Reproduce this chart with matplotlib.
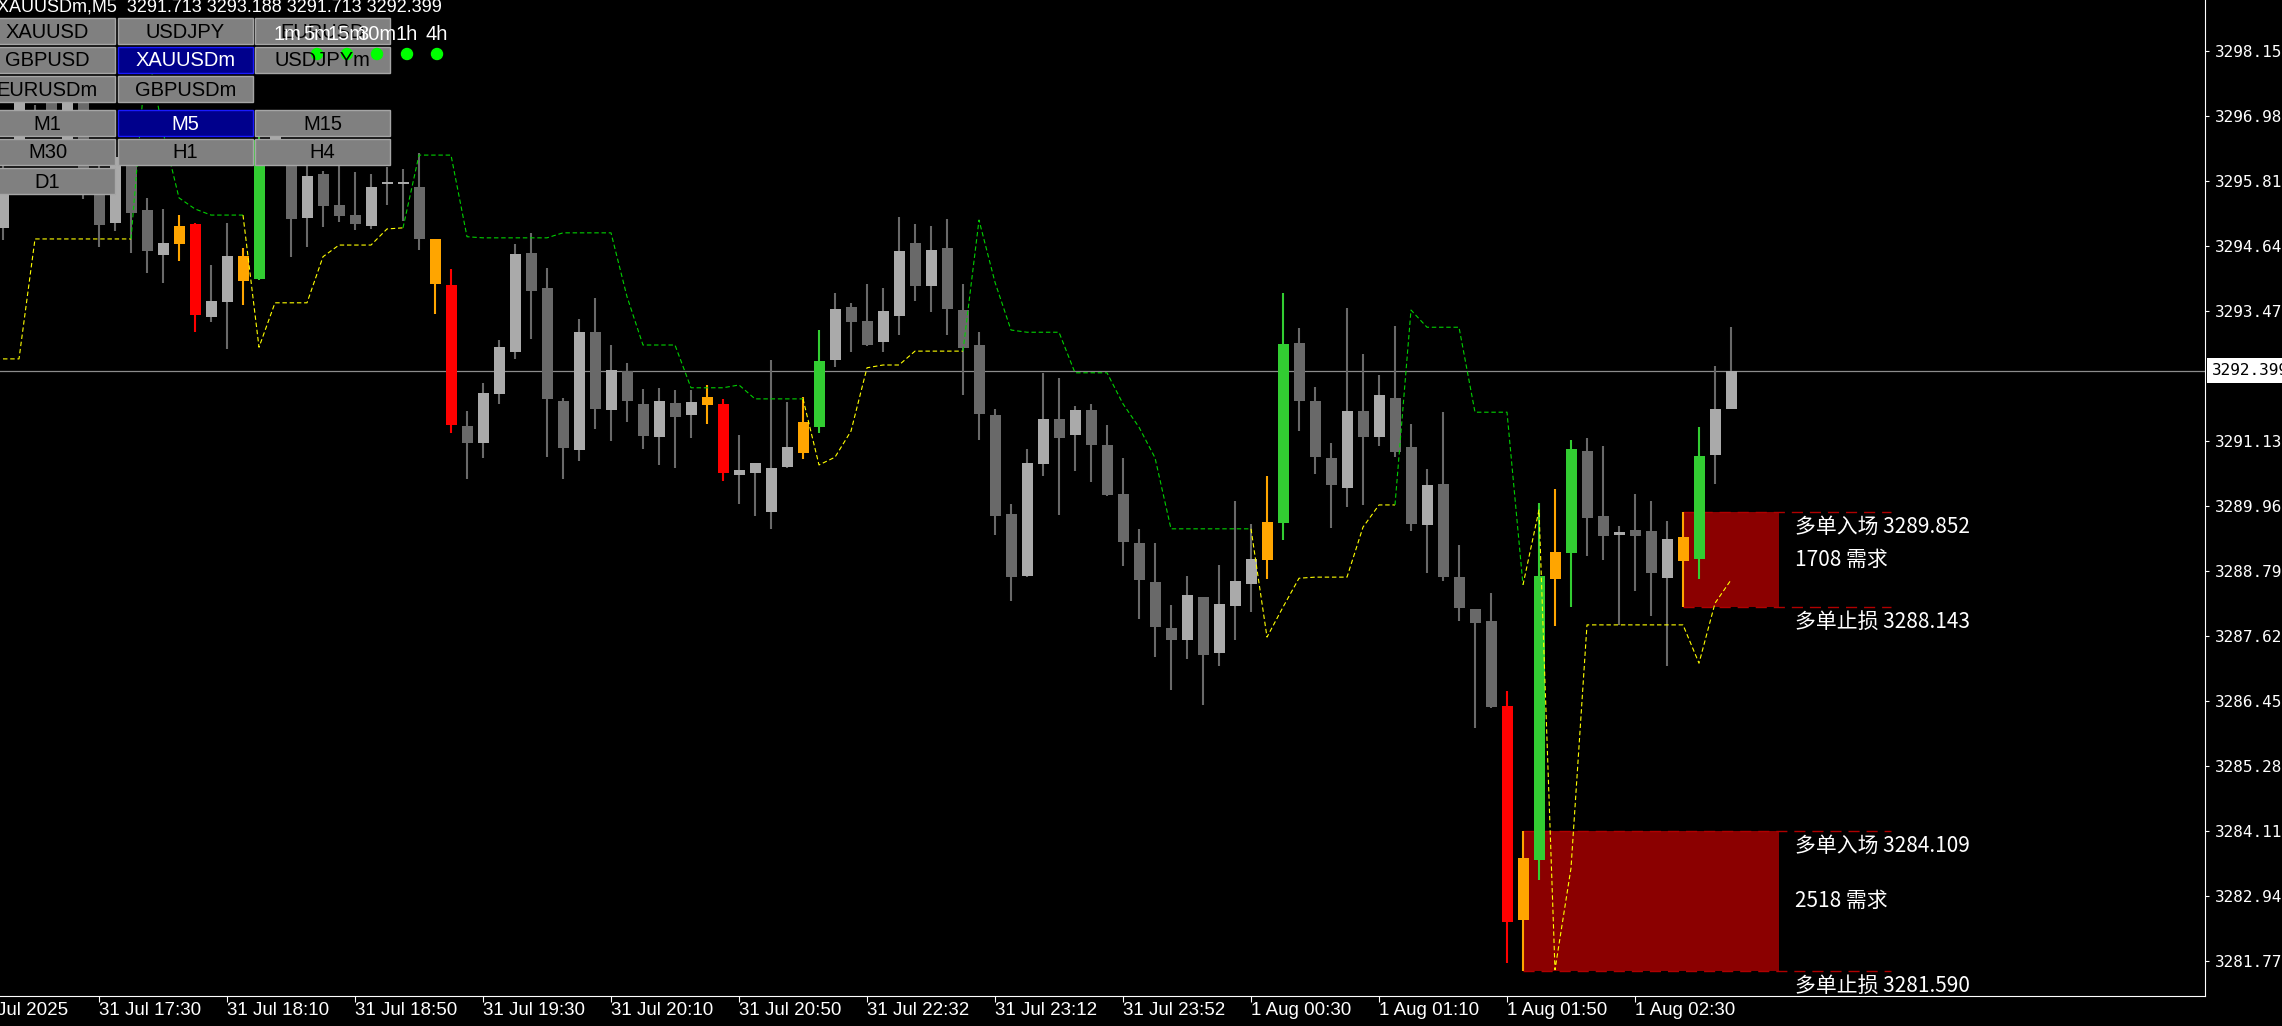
import matplotlib
matplotlib.use("Agg")
import matplotlib.pyplot as plt
from matplotlib.patches import Rectangle, Circle

W, H = 2282, 1026

# XAUUSDm M5 candles, bar 0 = 31 Jul 17:00, last bar = 1 Aug 03:00
opens = [3294.97, 3296.37, 3297.06, 3297.45, 3296.19, 3297.36, 3296.01, 3295.06, 3296.46, 3295.29,
         3294.48, 3294.68, 3295.04, 3293.36, 3293.64, 3294.01, 3294.05, 3296.19, 3296.41, 3295.15,
         3295.94, 3295.38, 3295.20, 3295.00, 3295.76, 3295.76, 3295.71, 3294.77, 3293.94, 3291.40,
         3291.10, 3291.98, 3292.73, 3294.52, 3293.89, 3291.85, 3290.97, 3293.09, 3291.69, 3292.39,
         3291.80, 3291.20, 3291.82, 3291.60, 3291.78, 3291.80, 3290.52, 3290.56, 3289.85, 3290.66,
         3290.92, 3291.38, 3292.59, 3293.54, 3293.29, 3292.91, 3293.38, 3294.70, 3293.92, 3294.61,
         3293.49, 3292.86, 3291.60, 3289.82, 3288.70, 3290.72, 3291.53, 3291.24, 3291.69, 3291.06,
         3290.18, 3289.30, 3288.59, 3287.76, 3287.55, 3288.32, 3287.31, 3288.16, 3288.56, 3288.99,
         3289.66, 3292.90, 3291.85, 3290.83, 3290.29, 3291.67, 3291.20, 3291.91, 3291.02, 3289.62,
         3290.36, 3288.68, 3288.11, 3287.89, 3286.36, 3282.51, 3283.59, 3288.65, 3289.12, 3290.95,
         3289.78, 3289.44, 3289.53, 3289.51, 3288.66, 3288.97, 3289.01, 3290.88, 3291.713]
highs = [3296.19, 3297.45, 3297.18, 3297.54, 3297.45, 3297.45, 3296.10, 3296.32, 3296.55, 3295.51,
         3295.31, 3295.20, 3295.06, 3294.30, 3295.06, 3294.61, 3296.64, 3297.00, 3296.55, 3296.08,
         3295.99, 3296.10, 3295.98, 3295.94, 3296.07, 3296.03, 3296.32, 3294.77, 3294.23, 3291.67,
         3292.18, 3292.95, 3294.68, 3294.88, 3294.25, 3291.91, 3293.33, 3293.71, 3292.86, 3292.54,
         3292.07, 3292.09, 3292.05, 3292.05, 3292.14, 3291.89, 3291.24, 3290.74, 3292.59, 3291.83,
         3291.92, 3293.13, 3293.80, 3293.62, 3293.96, 3293.89, 3295.17, 3295.04, 3295.00, 3295.13,
         3293.96, 3293.09, 3291.71, 3290.00, 3290.99, 3292.36, 3292.27, 3291.76, 3291.80, 3291.42,
         3290.83, 3289.55, 3289.30, 3288.18, 3288.70, 3288.32, 3288.90, 3290.05, 3289.64, 3290.50,
         3293.80, 3293.17, 3292.10, 3291.10, 3293.53, 3292.70, 3292.32, 3293.20, 3291.44, 3290.63,
         3291.65, 3289.26, 3288.11, 3288.39, 3286.63, 3284.109, 3290.02, 3290.27, 3291.15, 3291.19,
         3291.04, 3289.60, 3290.18, 3290.05, 3289.69, 3289.852, 3291.38, 3292.48, 3293.188]
lows = [3294.75, 3296.19, 3296.61, 3296.61, 3296.10, 3295.49, 3294.63, 3294.91, 3294.52, 3294.16,
        3293.98, 3294.37, 3293.09, 3293.27, 3292.79, 3293.58, 3294.03, 3296.10, 3294.45, 3294.63,
        3294.99, 3295.08, 3294.93, 3294.95, 3295.38, 3295.09, 3294.57, 3293.42, 3291.28, 3290.45,
        3290.83, 3291.80, 3292.61, 3292.97, 3290.84, 3290.45, 3290.77, 3291.35, 3291.13, 3291.47,
        3290.99, 3290.70, 3290.65, 3291.19, 3291.44, 3290.41, 3290.00, 3289.78, 3289.55, 3290.65,
        3290.81, 3291.28, 3292.46, 3292.73, 3292.84, 3292.73, 3293.04, 3293.65, 3293.45, 3293.04,
        3291.96, 3291.15, 3289.44, 3288.25, 3288.68, 3290.50, 3289.80, 3290.59, 3290.39, 3290.14,
        3288.88, 3287.93, 3287.24, 3286.65, 3287.21, 3286.38, 3287.08, 3287.55, 3288.05, 3288.65,
        3289.35, 3291.31, 3290.54, 3289.57, 3289.94, 3289.98, 3291.04, 3290.84, 3289.51, 3288.75,
        3288.61, 3287.89, 3285.96, 3286.32, 3281.73, 3281.590, 3283.23, 3287.80, 3288.14, 3289.06,
        3288.99, 3287.82, 3288.43, 3287.98, 3287.08, 3288.143, 3288.65, 3290.36, 3291.713]
closes = [3296.01, 3297.27, 3296.64, 3296.68, 3297.36, 3295.83, 3295.02, 3296.25, 3295.24, 3294.55,
          3294.70, 3295.00, 3293.40, 3293.65, 3294.46, 3294.46, 3296.55, 3296.82, 3295.13, 3295.90,
          3295.36, 3295.18, 3295.04, 3295.71, 3295.76, 3295.76, 3294.77, 3293.96, 3291.42, 3291.10,
          3292.00, 3292.82, 3294.50, 3293.83, 3291.89, 3291.01, 3293.09, 3291.71, 3292.41, 3291.85,
          3291.22, 3291.85, 3291.56, 3291.83, 3291.92, 3290.56, 3290.61, 3290.74, 3290.65, 3291.02,
          3291.47, 3292.57, 3293.51, 3293.27, 3292.86, 3293.47, 3294.55, 3293.92, 3294.57, 3293.51,
          3292.81, 3291.62, 3289.78, 3288.68, 3290.74, 3291.53, 3291.19, 3291.69, 3291.06, 3290.16,
          3289.31, 3288.63, 3287.78, 3287.55, 3288.36, 3287.28, 3288.20, 3288.61, 3289.01, 3289.67,
          3292.88, 3291.85, 3290.84, 3290.34, 3291.67, 3291.20, 3291.96, 3290.93, 3289.64, 3290.34,
          3288.68, 3288.12, 3287.85, 3286.34, 3282.47, 3283.62, 3288.70, 3289.13, 3290.99, 3289.75,
          3289.42, 3289.49, 3289.42, 3288.75, 3289.37, 3289.40, 3290.86, 3291.71, 3292.399]

# bars the indicator paints orange / red / green
special = {11: "o", 12: "r", 15: "o", 16: "g", 27: "o", 28: "r", 44: "o", 45: "r",
           50: "o", 51: "g", 79: "o", 80: "g", 94: "r", 95: "o", 96: "g", 97: "o",
           98: "g", 105: "o", 106: "g"}

# trailing band (Y = yellow support, G = green resistance)
band = [3292.61, 3292.61, 3294.77, 3294.77, 3294.77, 3294.77, 3294.77, 3294.77, 3294.77, 3298.23,
        3296.70, 3295.51, 3295.31, 3295.20, 3295.20, 3295.20, 3292.82, 3293.62, 3293.62, 3293.62,
        3294.45, 3294.66, 3294.66, 3294.66, 3294.95, 3294.97, 3296.28, 3296.28, 3296.28, 3294.81,
        3294.79, 3294.79, 3294.79, 3294.79, 3294.79, 3294.88, 3294.88, 3294.88, 3294.88, 3293.73,
        3292.86, 3292.86, 3292.86, 3292.09, 3292.09, 3292.09, 3292.14, 3291.89, 3291.89, 3291.89,
        3291.89, 3290.70, 3290.84, 3291.31, 3292.45, 3292.50, 3292.50, 3292.75, 3292.75, 3292.75,
        3292.75, 3295.11, 3293.99, 3293.13, 3293.09, 3293.09, 3293.09, 3292.36, 3292.36, 3292.36,
        3291.80, 3291.38, 3290.83, 3289.55, 3289.55, 3289.55, 3289.55, 3289.55, 3289.55, 3287.60,
        3288.14, 3288.66, 3288.68, 3288.68, 3288.68, 3289.58, 3289.98, 3289.98, 3293.49, 3293.18,
        3293.18, 3293.18, 3291.65, 3291.65, 3291.65, 3288.54, 3289.89, 3281.61, 3283.44, 3287.82,
        3287.82, 3287.82, 3287.82, 3287.82, 3287.82, 3287.82, 3287.13, 3288.21, 3288.63]
trend = ("YYYYYYYYY" "GGGGGGG" "YYYYYYYYYY" "GGGGGGGGGGGGGGGGGGGGGGGGG" "YYYYYYYYYY"
         "GGGGGGGGGGGGGGGGGG" "YYYYYYYYY" "GGGGGGGG" "YYYYYYYYYYYYY")

time_bars = [-2, 6, 14, 22, 30, 38, 46, 54, 62, 70, 78, 86, 94, 102]
time_labels = ["31 Jul 2025", "31 Jul 17:30", "31 Jul 18:10", "31 Jul 18:50", "31 Jul 19:30",
               "31 Jul 20:10", "31 Jul 20:50", "31 Jul 22:32", "31 Jul 23:12", "31 Jul 23:52",
               "1 Aug 00:30", "1 Aug 01:10", "1 Aug 01:50", "1 Aug 02:30"]

price_ticks = [3298.155, 3296.985, 3295.815, 3294.645, 3293.475, 3291.135, 3289.965,
               3288.795, 3287.625, 3286.455, 3285.285, 3284.115, 3282.945, 3281.775]
last_price = 3292.399
title = "XAUUSDm,M5  3291.713 3293.188 3291.713 3292.399"

zone_start = [95, 105]
zone_end = 111
zone_line_end = 118
zone_entry = [3284.109, 3289.852]
zone_stop = [3281.590, 3288.143]
zone_demand = [2518, 1708]

symbol_rows = [["XAUUSD", "USDJPY", "EURUSD"], ["GBPUSD", "XAUUSDm", "USDJPYm"], ["EURUSDm", "GBPUSDm"]]
period_rows = [["M1", "M5", "M15"], ["M30", "H1", "H4"], ["D1"]]
selected = ["XAUUSDm", "M5"]
tf_labels = ["1m", "5m", "15m", "30m", "1h", "4h"]
tf_dot = [False, True, True, True, True, True]

CJK = ["Noto Sans CJK SC", "DejaVu Sans"]

fig = plt.figure(figsize=(W / 100, H / 100), dpi=100, facecolor="black")
ax = fig.add_axes([0, 30 / H, 2205 / W, 996 / H])
ax.set_facecolor("black")
ax.set_xlim(-0.1875, 137.625)
ax.set_ylim(3281.137, 3299.073)

# demand zones
for s, e, st in zip(zone_start, zone_entry, zone_stop):
    ax.add_patch(Rectangle((s, st), zone_end - s, e - st, facecolor="#8b0000", edgecolor="none", zorder=1))
    ax.hlines([e, st], s, zone_line_end, colors="#b00000", lw=1.0, linestyles=(0, (8, 5)), zorder=1.5)
for e, st, d in zip(zone_entry, zone_stop, zone_demand):
    kw = dict(color="white", fontsize=15, family=CJK, va="center", ha="left", zorder=6)
    ax.text(zone_end + 1, e - 0.27, f"多单入场 {e:.3f}", **kw)
    ax.text(zone_end + 1, (e + st) / 2, f"{d} 需求", **kw)
    ax.text(zone_end + 1, st - 0.27, f"多单止损 {st:.3f}", **kw)

# last price line
ax.axhline(last_price, color="#8c8c8c", lw=0.9, zorder=2)

# candles
cols = {"o": "#ffa500", "r": "#ff0000", "g": "#32cd32"}
for i in range(len(opens)):
    o, h, l, c = opens[i], highs[i], lows[i], closes[i]
    k = special.get(i)
    if k:
        body = wick = cols[k]
    else:
        body = "#aaaaaa" if c >= o else "#696969"
        wick = "#696969"
    ax.vlines(i, l, h, color=wick, lw=1.5, zorder=3)
    ax.bar(i, max(abs(c - o), 0.035), bottom=min(o, c), width=0.6875, color=body, lw=0, zorder=3.1)

# band line, coloured run by run
n = len(band)
i = 1
while i < n:
    j = i
    while j + 1 < n and trend[j + 1] == trend[i]:
        j += 1
    clr = "#ffff00" if trend[i] == "Y" else "#00d000"
    ax.plot(range(i - 1, j + 1), band[i - 1:j + 1], color=clr, lw=0.8, dashes=(4, 2.5), zorder=4)
    i = j + 1

# axes look
for sp in ["left", "top"]:
    ax.spines[sp].set_visible(False)
for sp in ["bottom", "right"]:
    ax.spines[sp].set_color("white")
    ax.spines[sp].set_linewidth(0.8)

ax.set_xticks([b for b in time_bars if b >= 0])
ax.set_xticklabels([])
ax.tick_params(axis="x", colors="white", length=4, width=0.8)
for b, lab in zip(time_bars, time_labels):
    ax.text(b, -0.006, lab, transform=ax.get_xaxis_transform(), ha="left", va="top",
            color="white", fontsize=13.5, family="Liberation Sans", clip_on=False)

ax.yaxis.tick_right()
ax.set_yticks(price_ticks)
ax.set_yticklabels([f"{v:.3f}" for v in price_ticks], family="DejaVu Sans Mono", fontsize=11.5)
ax.tick_params(axis="y", colors="white", length=3, width=0.8, pad=4)
ax.text(1.0 + 7 / 2205, last_price, f"{last_price:.3f}", transform=ax.get_yaxis_transform(),
        ha="left", va="center", color="black", fontsize=11.5, family="DejaVu Sans Mono",
        bbox=dict(boxstyle="square,pad=0.3", fc="white", ec="none"), clip_on=False, zorder=7)

# overlay in pixel coordinates for the panel widgets
ov = fig.add_axes([0, 0, 1, 1], zorder=5)
ov.set_xlim(0, W)
ov.set_ylim(H, 0)
ov.axis("off")

ov.text(-3, 11, title, ha="left", va="baseline", color="white", fontsize=13, family="Liberation Sans")

col_x = [-20, 118, 255]
col_w = 135
row_h = 26
for rows, ys in [(symbol_rows, [18, 47, 76]), (period_rows, [110, 139, 168])]:
    for labels, y in zip(rows, ys):
        for lab, x in zip(labels, col_x):
            on = lab in selected
            ov.add_patch(Rectangle((x, y), col_w, row_h, facecolor="#00008c" if on else "#808080",
                                   edgecolor="#1a1aff" if on else "#a6a6a6", lw=1))
            ov.text(x + col_w / 2, y + row_h / 2 + 1, lab, ha="center", va="center",
                    color="white" if on else "black", fontsize=14.5, family="Liberation Sans")

for k, (lab, dot) in enumerate(zip(tf_labels, tf_dot)):
    cx = 287 + 30 * k
    ov.text(cx, 35, lab, ha="center", va="center", color="white", fontsize=14.5, family="Liberation Sans")
    if dot:
        ov.add_patch(Circle((cx, 54), 5.5, color="#00ff00"))

fig.savefig("out.png", dpi=100, facecolor="black")
